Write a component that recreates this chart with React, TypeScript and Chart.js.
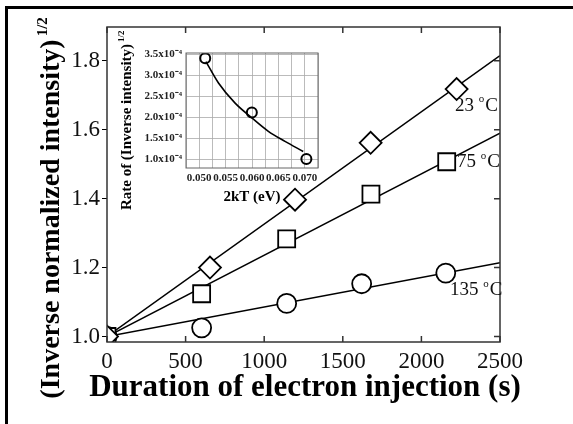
import React, { useEffect, useRef } from "react";
import { Chart, registerables } from "chart.js";
Chart.register(...registerables);

const TIMES = "'Liberation Serif', 'Times New Roman', Times, serif";
Chart.defaults.font.family = TIMES;

// ---- main chart data ----
const durationTicks = [0, 500, 1000, 1500, 2000, 2500];
const intensityTicks = [1.0, 1.2, 1.4, 1.6, 1.8];

const time23 = [0, 655, 1196, 1677, 2224];
const value23 = [1.0, 1.2, 1.397, 1.562, 1.718];
const time75 = [0, 602, 1143, 1679, 2161];
const value75 = [1.0, 1.124, 1.283, 1.413, 1.507];
const time135 = [0, 602, 1143, 1620, 2155];
const value135 = [1.0, 1.025, 1.096, 1.153, 1.184];

const fitTime = [0, 2500];
const fit23 = [1.0, 1.815];
const fit75 = [1.0, 1.59];
const fit135 = [1.0, 1.214];

const tempLabels = ["23", "75", "135"];
const tempLabelX = [2214, 2226, 2182];
const tempLabelY = [1.67, 1.505, 1.136];

const xTitle = "Duration of electron injection (s)";
const yTitle = "(Inverse normalized intensity)";

// ---- inset data ----
const insetXTicks = [0.0475, 0.05, 0.0525, 0.055, 0.0575, 0.06, 0.0625, 0.065, 0.0675, 0.07, 0.0725];
const insetYTicks = [1.0e-4, 1.5e-4, 2.0e-4, 2.5e-4, 3.0e-4, 3.5e-4];
const insetPointX = [0.05114, 0.05997, 0.0703];
const insetPointY = [3.4e-4, 2.11e-4, 1.0e-4];
const insetFitX = [0.05127, 0.05365, 0.0568, 0.05997, 0.0631, 0.06625, 0.0697];
const insetFitY = [3.32e-4, 2.81e-4, 2.33e-4, 1.98e-4, 1.66e-4, 1.42e-4, 1.18e-4];
const insetXTitle = "2kT (eV)";
const insetYTitle = "Rate of (Inverse intensity)";

const zip = (xs: number[], ys: number[]) => xs.map((x, i) => ({ x, y: ys[i] }));

const mainDecor = {
  id: "mainDecor",
  afterDraw(chart: any) {
    const { ctx, chartArea: a, scales } = chart;
    const xs = scales.x;
    const ys = scales.y;
    ctx.save();
    ctx.strokeStyle = "#333";
    ctx.lineWidth = 1.5;
    ctx.strokeRect(a.left, a.top, a.right - a.left, a.bottom - a.top);
    ctx.beginPath();
    durationTicks.forEach((v) => {
      const px = xs.getPixelForValue(v);
      ctx.moveTo(px, a.bottom);
      ctx.lineTo(px, a.bottom - 6);
      ctx.moveTo(px, a.top);
      ctx.lineTo(px, a.top + 6);
    });
    intensityTicks.forEach((v) => {
      const py = ys.getPixelForValue(v);
      ctx.moveTo(a.right, py);
      ctx.lineTo(a.right - 6, py);
    });
    ctx.stroke();

    // temperature labels
    ctx.fillStyle = "#111";
    ctx.textBaseline = "middle";
    ctx.textAlign = "left";
    tempLabels.forEach((t, i) => {
      let px = xs.getPixelForValue(tempLabelX[i]);
      const py = ys.getPixelForValue(tempLabelY[i]);
      ctx.font = `19px ${TIMES}`;
      const s = t + " ";
      ctx.fillText(s, px, py);
      px += ctx.measureText(s).width;
      ctx.font = `11px ${TIMES}`;
      ctx.fillText("o", px, py - 6);
      px += ctx.measureText("o").width + 1;
      ctx.font = `19px ${TIMES}`;
      ctx.fillText("C", px, py);
    });

    // x title
    ctx.fillStyle = "#000";
    ctx.font = `bold 31px ${TIMES}`;
    ctx.textAlign = "center";
    ctx.textBaseline = "alphabetic";
    ctx.fillText(xTitle, 305, 396);

    // y title
    ctx.save();
    ctx.translate(52, 219);
    ctx.rotate(-Math.PI / 2);
    ctx.font = `bold 28px ${TIMES}`;
    ctx.textAlign = "center";
    ctx.textBaseline = "middle";
    ctx.fillText(yTitle, 0, 0);
    const w = ctx.measureText(yTitle).width;
    ctx.font = `bold 15px ${TIMES}`;
    ctx.textAlign = "left";
    ctx.fillText("1/2", w / 2 + 3, -9);
    ctx.restore();
    ctx.restore();
  },
};

const insetDecor = {
  id: "insetDecor",
  beforeDraw(chart: any) {
    const { ctx, chartArea: a } = chart;
    ctx.save();
    ctx.fillStyle = "#fff";
    ctx.fillRect(a.left, a.top, a.right - a.left, a.bottom - a.top);
    ctx.restore();
  },
  afterDraw(chart: any) {
    const { ctx, chartArea: a } = chart;
    ctx.save();
    ctx.strokeStyle = "#666";
    ctx.lineWidth = 1;
    ctx.strokeRect(a.left, a.top, a.right - a.left, a.bottom - a.top);
    ctx.fillStyle = "#000";
    ctx.font = `bold 15px ${TIMES}`;
    ctx.textAlign = "center";
    ctx.textBaseline = "middle";
    ctx.fillText(insetXTitle, (a.left + a.right) / 2, 172);
    ctx.save();
    ctx.translate(22, 102);
    ctx.rotate(-Math.PI / 2);
    ctx.fillText(insetYTitle, 0, 0);
    const w = ctx.measureText(insetYTitle).width;
    ctx.font = `bold 9px ${TIMES}`;
    ctx.textAlign = "left";
    ctx.fillText("1/2", w / 2 + 2, -5);
    ctx.restore();
    ctx.restore();
  },
};

function markerSet(data: any, style: string, radius: number) {
  return {
    data,
    showLine: false,
    pointStyle: style,
    pointRadius: radius,
    pointHoverRadius: radius,
    pointBorderWidth: 1.8,
    pointBorderColor: "#000",
    pointBackgroundColor: "#fff",
    clip: 0,
    order: 0,
  };
}
function lineSet(data: any) {
  return {
    data,
    showLine: true,
    borderColor: "#000",
    borderWidth: 1.5,
    pointRadius: 0,
    clip: 0,
    order: 1,
  };
}

export default function App() {
  const mainRef = useRef<HTMLCanvasElement>(null);
  const insetRef = useRef<HTMLCanvasElement>(null);

  useEffect(() => {
    const main = new Chart(mainRef.current as HTMLCanvasElement, {
      type: "scatter",
      data: {
        datasets: [
          lineSet(zip(fitTime, fit23)),
          lineSet(zip(fitTime, fit75)),
          lineSet(zip(fitTime, fit135)),
          markerSet(zip(time23, value23), "rectRot", 11),
          markerSet(zip(time75, value75), "rect", 12),
          markerSet(zip(time135, value135), "circle", 9.5),
        ] as any,
      },
      options: {
        animation: false,
        responsive: false,
        devicePixelRatio: 1,
        layout: { padding: { top: 27, right: 73, left: 0, bottom: 0 } },
        plugins: { legend: { display: false }, tooltip: { enabled: false } },
        events: [],
        scales: {
          x: {
            type: "linear",
            min: 0,
            max: 2500,
            afterBuildTicks: (s: any) => {
              s.ticks = durationTicks.map((value) => ({ value }));
            },
            afterFit: (s: any) => {
              s.height = 82;
            },
            border: { display: false },
            grid: { display: false, drawTicks: false },
            ticks: {
              color: "#111",
              padding: 6,
              font: { family: TIMES, size: 23, weight: "normal" },
              maxRotation: 0,
              callback: (v: any) => String(v),
            },
          },
          y: {
            type: "linear",
            min: 0.984,
            max: 1.898,
            afterBuildTicks: (s: any) => {
              s.ticks = intensityTicks.map((value) => ({ value }));
            },
            afterFit: (s: any) => {
              s.width = 107;
            },
            border: { display: false },
            grid: { display: true, drawOnChartArea: false, drawTicks: true, tickLength: 5, color: "#000", lineWidth: 1 },
            ticks: {
              color: "#111",
              padding: 2,
              font: { family: TIMES, size: 23, weight: "normal" },
              callback: (v: any) => Number(v).toFixed(1),
            },
          },
        },
      },
      plugins: [mainDecor],
    } as any);

    const inset = new Chart(insetRef.current as HTMLCanvasElement, {
      type: "scatter",
      data: {
        datasets: [
          {
            data: zip(insetFitX, insetFitY),
            showLine: true,
            borderColor: "#000",
            borderWidth: 1.6,
            pointRadius: 0,
            cubicInterpolationMode: "monotone",
            order: 1,
          },
          {
            data: zip(insetPointX, insetPointY),
            showLine: false,
            pointStyle: "circle",
            pointRadius: 5,
            pointBorderWidth: 2,
            pointBorderColor: "#000",
            pointBackgroundColor: "rgba(255,255,255,0)",
            order: 0,
          },
        ] as any,
      },
      options: {
        animation: false,
        responsive: false,
        devicePixelRatio: 1,
        layout: { padding: { top: 28, right: 7, left: 0, bottom: 0 } },
        plugins: { legend: { display: false }, tooltip: { enabled: false } },
        events: [],
        scales: {
          x: {
            type: "linear",
            min: 0.0475,
            max: 0.0725,
            afterBuildTicks: (s: any) => {
              s.ticks = insetXTicks.map((value) => ({ value }));
            },
            afterFit: (s: any) => {
              s.height = 52;
            },
            border: { display: false },
            grid: { display: true, drawTicks: false, color: "#aaa", lineWidth: 0.8, borderDash: [1, 2] } as any,
            ticks: {
              color: "#222",
              padding: 4,
              maxRotation: 0,
              autoSkip: false,
              font: { family: TIMES, size: 11, weight: "bold" },
              callback: (v: any) => {
                const n = Math.round(Number(v) * 10000);
                return n % 50 === 0 ? Number(v).toFixed(3) : "";
              },
            },
          },
          y: {
            type: "linear",
            min: 0.786e-4,
            max: 3.524e-4,
            afterBuildTicks: (s: any) => {
              s.ticks = insetYTicks.map((value) => ({ value }));
            },
            afterFit: (s: any) => {
              s.width = 81;
            },
            border: { display: false },
            grid: { display: true, drawTicks: false, color: "#aaa", lineWidth: 0.8, borderDash: [1, 2] } as any,
            ticks: {
              color: "#222",
              padding: 4,
              font: { family: TIMES, size: 11, weight: "bold" },
              callback: (v: any) => (Number(v) * 1e4).toFixed(1) + "x10\u207B\u2074",
            },
          },
        },
      },
      plugins: [insetDecor],
    } as any);

    return () => {
      main.destroy();
      inset.destroy();
    };
  }, []);

  return (
    <div style={{ position: "absolute", left: 0, top: 0, width: 573, height: 424, overflow: "hidden", background: "#fff" }}>
      <div
        style={{
          position: "absolute",
          left: 5,
          top: 6,
          width: 700,
          height: 600,
          borderLeft: "3px solid #000",
          borderTop: "3px solid #000",
        }}
      />
      <canvas ref={mainRef} width={573} height={424} style={{ position: "absolute", left: 0, top: 0 }} />
      <canvas ref={insetRef} width={220} height={195} style={{ position: "absolute", left: 105, top: 25 }} />
    </div>
  );
}
